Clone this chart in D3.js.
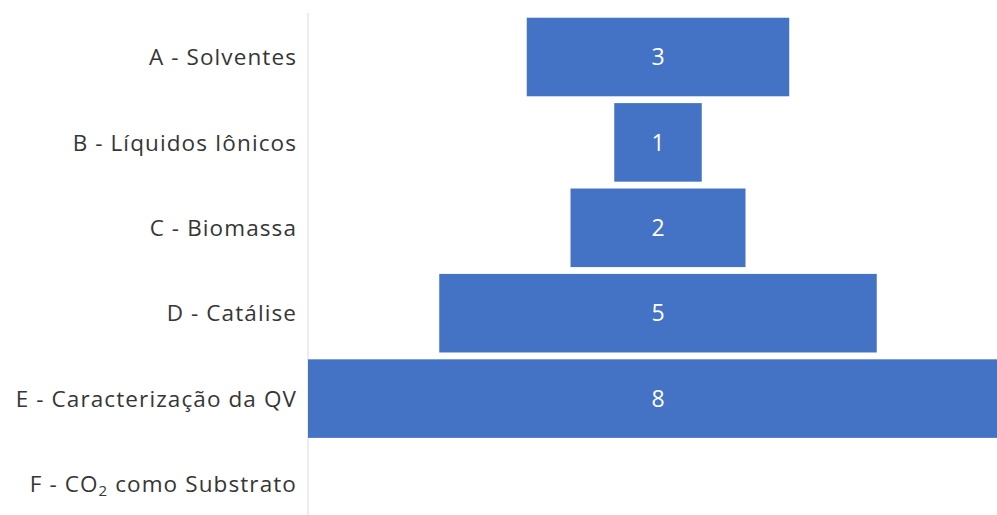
<!DOCTYPE html>
<html lang="pt">
<head>
<meta charset="UTF-8">
<title>Funil</title>
<script src="https://d3js.org/d3.v7.min.js"></script>
<style>
    body { margin: 0; background: white; overflow: hidden; }
    .cat { font-family: "Open Sans", sans-serif; font-size: 22.5px; letter-spacing: 1.1px; fill: #363636; }
    .val { font-family: "Open Sans", sans-serif; font-size: 23px; fill: white; }
</style>
</head>
<body>
<div id="chart"></div>
<script>
    const categories = ["A - Solventes", "B - Líquidos Iônicos", "C - Biomassa", "D - Catálise", "E - Caracterização da QV", "F - CO2 como Substrato"];
    const values = [3, 1, 2, 5, 8, 0];

    const W = 997, H = 515;
    const svg = d3.select("#chart").append("svg")
        .attr("width", W).attr("height", H);

    const x = d3.scaleLinear().domain([-4, 4]).range([308, 1008]);
    const y = d3.scaleBand().domain(categories).range([14.3, 526.7])
        .paddingInner(0.08).paddingOuter(0.04);

    const data = categories.map((c, i) => ({ cat: c, value: values[i] }));

    // axis line
    svg.append("line")
        .attr("x1", x(-4)).attr("x2", x(-4))
        .attr("y1", 13).attr("y2", H)
        .attr("stroke", "#d9d9d9").attr("stroke-width", 1);

    svg.selectAll("rect.bar").data(data.filter(d => d.value > 0)).enter()
        .append("rect").attr("class", "bar")
        .attr("x", d => x(-d.value / 2))
        .attr("width", d => x(d.value / 2) - x(-d.value / 2))
        .attr("y", d => y(d.cat))
        .attr("height", y.bandwidth())
        .attr("fill", "#4472c4");

    svg.selectAll("text.val").data(data.filter(d => d.value > 0)).enter()
        .append("text").attr("class", "val")
        .attr("x", x(0))
        .attr("y", d => y(d.cat) + y.bandwidth() / 2)
        .attr("dy", "0.36em")
        .attr("text-anchor", "middle")
        .text(d => d.value);

    const labels = svg.selectAll("text.cat").data(data).enter()
        .append("text").attr("class", "cat")
        .attr("x", x(-4) - 11)
        .attr("y", d => y(d.cat) + y.bandwidth() / 2)
        .attr("dy", "0.36em")
        .attr("text-anchor", "end");

    labels.each(function (d) {
        const t = d3.select(this);
        if (d.cat.includes("CO2")) {
            const parts = d.cat.split("CO2");
            t.append("tspan").text(parts[0] + "CO");
            t.append("tspan").attr("font-size", "15px").attr("dy", "4").text("2");
            t.append("tspan").attr("dy", "-4").text(parts[1]);
        } else {
            t.text(d.cat);
        }
    });
</script>
</body>
</html>
